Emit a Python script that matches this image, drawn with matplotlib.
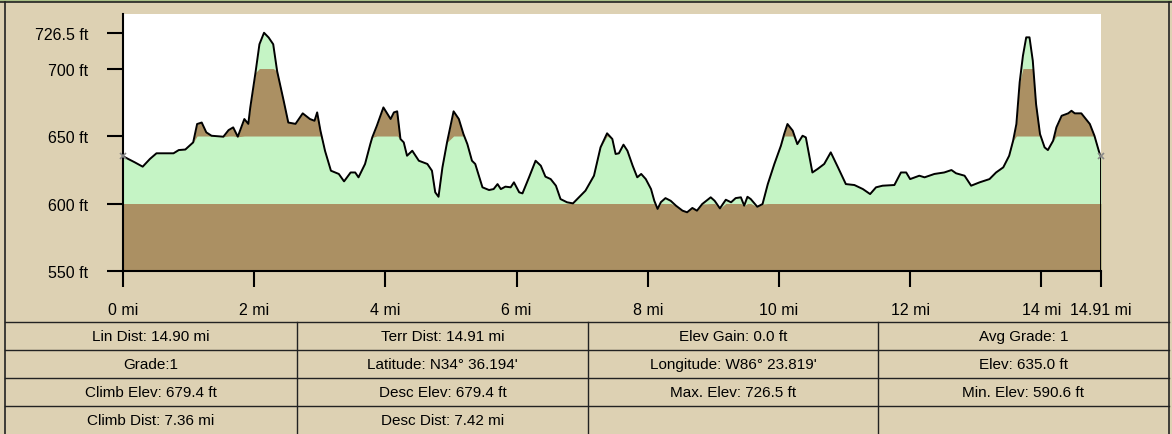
import numpy as np
import matplotlib
matplotlib.use('Agg')
import matplotlib.pyplot as plt

dist_mi = [0.00, 0.08, 0.18, 0.30, 0.41, 0.51, 0.77, 0.85, 0.95, 1.07,
           1.13, 1.20, 1.27, 1.35, 1.53, 1.61, 1.68, 1.75, 1.85, 1.91,
           1.94, 2.02, 2.08, 2.15, 2.22, 2.29, 2.35, 2.45, 2.52, 2.63,
           2.74, 2.85, 2.92, 2.96, 3.01, 3.08, 3.17, 3.29, 3.37, 3.47,
           3.54, 3.59, 3.69, 3.77, 3.80, 3.87, 3.97, 4.08, 4.13, 4.18,
           4.23, 4.28, 4.33, 4.41, 4.51, 4.64, 4.71, 4.76, 4.81, 4.87,
           4.94, 5.04, 5.12, 5.19, 5.25, 5.32, 5.37, 5.48, 5.58, 5.65,
           5.71, 5.76, 5.83, 5.91, 5.96, 6.04, 6.09, 6.19, 6.29, 6.37,
           6.44, 6.52, 6.60, 6.67, 6.77, 6.86, 6.95, 7.05, 7.18, 7.28,
           7.38, 7.46, 7.51, 7.56, 7.63, 7.69, 7.77, 7.84, 7.90, 7.97,
           8.05, 8.10, 8.15, 8.20, 8.27, 8.35, 8.43, 8.53, 8.60, 8.68,
           8.75, 8.83, 8.96, 9.02, 9.10, 9.19, 9.27, 9.34, 9.42, 9.47,
           9.52, 9.57, 9.67, 9.75, 9.83, 9.93, 10.03, 10.08, 10.13, 10.21,
           10.28, 10.36, 10.41, 10.51, 10.59, 10.69, 10.79, 10.90, 11.02, 11.15,
           11.28, 11.39, 11.48, 11.58, 11.76, 11.86, 11.94, 12.00, 12.14, 12.22,
           12.37, 12.52, 12.63, 12.70, 12.83, 12.93, 13.06, 13.21, 13.31, 13.42,
           13.51, 13.57, 13.62, 13.67, 13.72, 13.77, 13.82, 13.87, 13.92, 13.98,
           14.05, 14.10, 14.18, 14.23, 14.31, 14.41, 14.46, 14.51, 14.61, 14.74,
           14.81, 14.89, 14.91]
elev_ft = [635.0, 633.0, 630.5, 627.3, 633.0, 637.2, 637.2, 639.6, 640.0, 645.3,
           658.9, 660.0, 652.7, 650.2, 649.5, 654.4, 656.4, 649.5, 662.6, 659.0,
           671.0, 697.0, 718.0, 726.5, 723.0, 718.0, 698.0, 676.0, 660.0, 659.0,
           666.8, 662.6, 661.3, 667.5, 654.0, 639.0, 624.3, 621.9, 616.4, 623.0,
           623.0, 619.4, 629.3, 644.0, 649.0, 657.6, 671.2, 662.6, 667.5, 668.3,
           647.8, 645.3, 635.4, 639.1, 631.7, 629.3, 624.3, 608.3, 605.0, 626.8,
           645.3, 668.3, 662.6, 651.5, 644.0, 631.7, 629.3, 612.0, 610.0, 610.7,
           614.4, 610.7, 612.5, 612.0, 615.7, 608.3, 607.5, 619.4, 631.7, 628.0,
           619.9, 618.1, 613.2, 603.3, 600.9, 600.1, 604.6, 609.5, 620.6, 641.6,
           652.0, 647.8, 636.7, 637.2, 643.6, 639.1, 628.0, 619.4, 621.9, 618.1,
           610.7, 602.0, 596.0, 601.0, 604.0, 602.0, 598.4, 594.7, 593.5, 596.7,
           594.7, 599.6, 604.6, 602.0, 596.4, 602.8, 600.9, 604.0, 604.6, 598.4,
           605.0, 603.3, 597.6, 599.6, 614.4, 629.3, 642.8, 651.5, 658.9, 654.0,
           644.0, 650.2, 649.0, 623.0, 625.6, 629.3, 637.9, 626.8, 614.4, 613.7,
           610.7, 607.0, 612.0, 613.2, 613.7, 623.0, 623.0, 618.1, 620.6, 619.4,
           621.9, 623.0, 624.8, 622.4, 620.6, 613.2, 615.7, 618.1, 623.0, 626.8,
           635.4, 646.5, 658.9, 689.8, 709.5, 723.1, 723.1, 705.8, 673.7, 651.5,
           641.6, 639.6, 646.5, 656.4, 665.0, 666.8, 668.7, 666.8, 666.8, 658.9,
           650.2, 636.7, 635.0]

band_edges = [550, 600, 650, 700, 750]
x_ticks = [0, 2, 4, 6, 8, 10, 12, 14, 14.91]
x_labels = ['0 mi', '2 mi', '4 mi', '6 mi', '8 mi', '10 mi', '12 mi', '14 mi', '14.91 mi']
y_ticks = [550, 600, 650, 700, 726.5]
y_labels = ['550 ft', '600 ft', '650 ft', '700 ft', '726.5 ft']

stats_rows = [
    ['Lin Dist: 14.90 mi', 'Terr Dist: 14.91 mi', 'Elev Gain: 0.0 ft', 'Avg Grade: 1'],
    ['Grade:1', "Latitude: N34\u00b0 36.194'", "Longitude: W86\u00b0 23.819'", 'Elev: 635.0 ft'],
    ['Climb Elev: 679.4 ft', 'Desc Elev: 679.4 ft', 'Max. Elev: 726.5 ft', 'Min. Elev: 590.6 ft'],
    ['Climb Dist: 7.36 mi', 'Desc Dist: 7.42 mi', '', ''],
]

TAN = '#ddd1b3'
BROWN = '#ab9063'
GREEN = '#c5f4c5'
LINE = '#222222'

plt.rcParams['font.family'] = ['Liberation Sans', 'DejaVu Sans']

W, H = 1172, 435
fig = plt.figure(figsize=(W / 100, H / 100), dpi=100, facecolor=TAN)

# background layer in pixel coordinates: frame and stats table
bg = fig.add_axes([0, 0, 1, 1], zorder=-1)
bg.set_xlim(0, W)
bg.set_ylim(H, 0)
bg.axis('off')
bg.fill_between([0, W], 0, 2.5, color='#a9bf86', lw=0)
bg.plot([0, W], [2.5, 2.5], color=LINE, lw=1.2)
bg.plot([5, 5], [2.5, H], color=LINE, lw=1.2)
bg.plot([1169, 1169], [2.5, H], color=LINE, lw=1.2)

col_edges = [5, 297, 588, 878, 1169]
row_top, row_h = 323, 28
for i in range(len(stats_rows)):
    y0 = row_top + i * row_h
    bg.plot([5, 1169], [y0, y0], color=LINE, lw=1.0)
for cx in col_edges[1:-1]:
    bg.plot([cx, cx], [row_top, H], color=LINE, lw=1.0)
for i, row in enumerate(stats_rows):
    yc = row_top + i * row_h + row_h / 2
    for j, txt in enumerate(row):
        xc = (col_edges[j] + col_edges[j + 1]) / 2
        bg.text(xc, yc, txt, ha='center', va='center', fontsize=11, color='black')

# profile plot
ax = fig.add_axes([123 / W, 1 - 272 / H, 978 / W, 257 / H])
ax.set_facecolor('white')
x = np.array(dist_mi)
y = np.array(elev_ft)
# alternating bands under the curve, painted from the top band down
band_colors = [BROWN, GREEN, BROWN, GREEN]
for hi, c in reversed(list(zip(band_edges[1:], band_colors))):
    ax.fill_between(x, band_edges[0], np.minimum(y, hi), color=c, lw=0)
ax.plot(list(x) + [x[-1]], list(y) + [550], color='black', lw=1.4)
ax.plot([x[0], x[-1]], [y[0], y[-1]], ls='none', marker='x', color='#888888',
        ms=5, mew=1.2, clip_on=False, zorder=5)

ax.set_xlim(0, 14.91)
ax.set_ylim(550, 740.4)
for s in ['top', 'right']:
    ax.spines[s].set_visible(False)
for s in ['left', 'bottom']:
    ax.spines[s].set_linewidth(1.5)
    ax.spines[s].set_color('black')
ax.set_xticks(x_ticks)
ax.set_xticklabels(x_labels)
ax.set_yticks(y_ticks)
ax.set_yticklabels(y_labels)
ax.tick_params(axis='both', direction='out', length=11.5, width=1.5, labelsize=11.5)
ax.tick_params(axis='y', pad=13.5)
ax.tick_params(axis='x', pad=10.5)

fig.savefig('out.png', dpi=100, facecolor=TAN)
